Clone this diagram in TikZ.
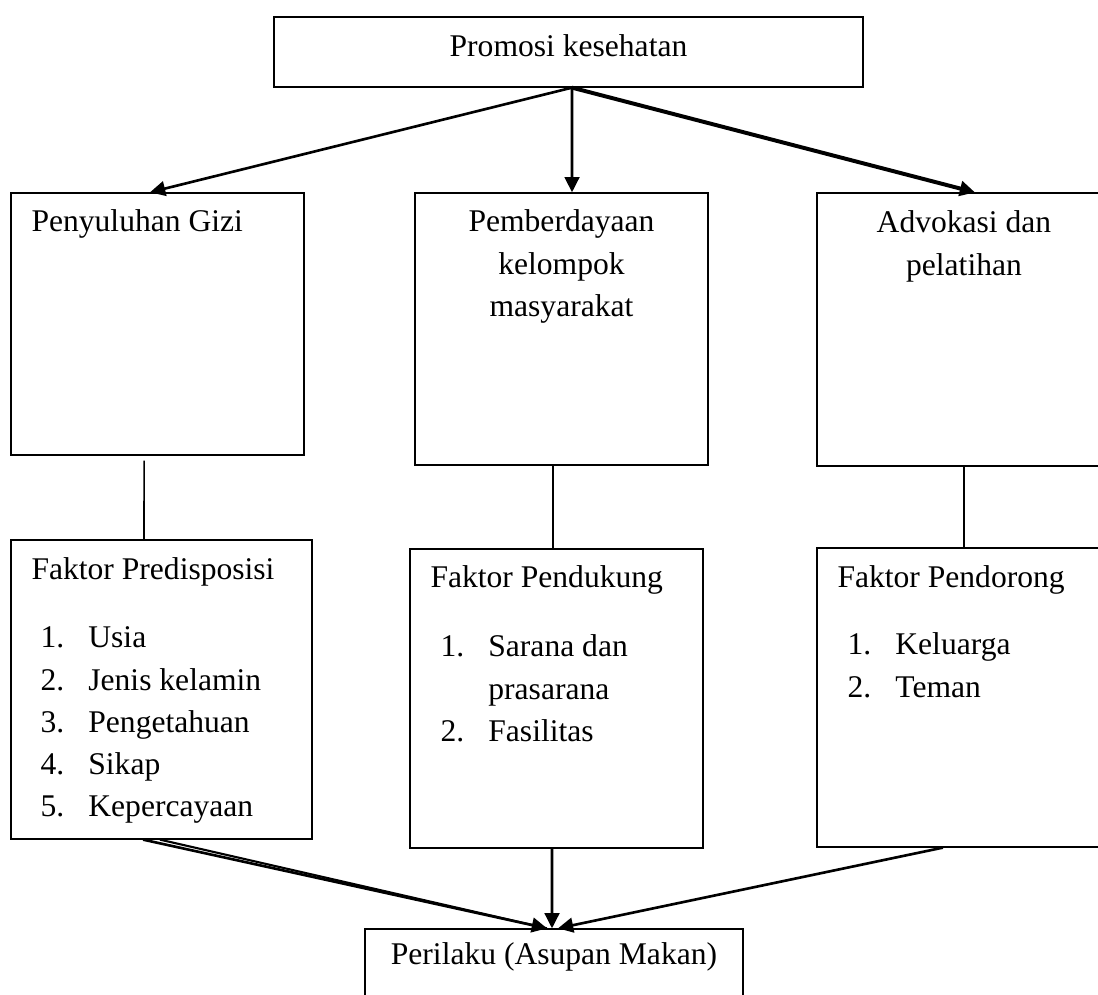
\documentclass[tikz,border=0pt]{standalone}
\usepackage{fontspec}
\setmainfont{Liberation Serif}
\usetikzlibrary{arrows.meta}

\begin{document}
\begin{tikzpicture}[x=0.38pt, y=-0.38pt,
        box/.style={draw, rectangle, inner sep=0pt, line width=0.5pt},
        txt/.style={inner sep=0pt, font=\fontsize{12}{16}\selectfont},
        arr/.style={line width=1pt, -{Triangle[length=5.8pt,width=5.6pt]}},
        link/.style={line width=0.6pt} ]
        \useasboundingbox (0,0) rectangle (1098,995);
        \clip (0,0) rectangle (1098,995);
        % boxes
        \node[box, minimum width=223.8pt, minimum height=26.6pt] (promo) at (568.5,52) {};
        \node[box, minimum width=111.3pt, minimum height=99.6pt] (peny) at (157.5,324) {};
        \node[box, minimum width=111.3pt, minimum height=103.4pt] (pember) at (561.5,329) {};
        \node[box, minimum width=111.7pt, minimum height=103.7pt] (adv) at (964,329.5) {};
        \node[box, minimum width=114.4pt, minimum height=113.6pt] (pred) at (161.5,689.5) {};
        \node[box, minimum width=111.3pt, minimum height=113.6pt] (pend) at (556.5,698.5) {};
        \node[box, minimum width=111.7pt, minimum height=113.6pt] (pendr) at (964,697.5) {};
        \node[box, minimum width=143.6pt, minimum height=26.6pt] (peril) at (554,964) {};
        % texts
        \node[txt, anchor=base] (tpromo) at (568.5,57) {Promosi kesehatan};
        \node[txt, anchor=base west] (tpeny) at (31,232) {Penyuluhan Gizi};
        \node[txt, anchor=base] (tpember) at (561.5,232)
            {\begin{tabular}[t]{@{}c@{}}Pemberdayaan\\ kelompok\\ masyarakat\end{tabular}};
        \node[txt, anchor=base] (tadv) at (964,233)
            {\begin{tabular}[t]{@{}c@{}}Advokasi dan\\ pelatihan\end{tabular}};
        \node[txt, anchor=base west] (tpred) at (31,580) {Faktor Predisposisi};
        \node[txt, anchor=base west] (lpred) at (40,648)
            {\begin{tabular}[t]{@{}p{18.2pt}@{}l@{}}1. & Usia\\ 2. & Jenis kelamin\\ 3. & Pengetahuan\\ 4. & Sikap\\ 5. & Kepercayaan\end{tabular}};
        \node[txt, anchor=base west] (tpend) at (430,588) {Faktor Pendukung};
        \node[txt, anchor=base west] (lpend) at (440,657)
            {\begin{tabular}[t]{@{}p{18.2pt}@{}l@{}}1. & Sarana dan\\ & prasarana\\ 2. & Fasilitas\end{tabular}};
        \node[txt, anchor=base west] (tpendr) at (837,588) {Faktor Pendorong};
        \node[txt, anchor=base west] (lpendr) at (847,655)
            {\begin{tabular}[t]{@{}p{18.2pt}@{}l@{}}1. & Keluarga\\ 2. & Teman\end{tabular}};
        \node[txt, anchor=base] (tperil) at (554,965) {Perilaku (Asupan Makan)};
        % arrows and links
        \draw[arr] ([xshift=1.33pt]promo.south) -- ([xshift=-2.85pt]peny.north);
        \draw[arr] ([xshift=1.33pt]promo.south) -- ([xshift=4pt]pember.north);
        \draw[arr, line width=1.5pt] ([xshift=1.33pt]promo.south) -- ([xshift=4.2pt]adv.north);
        \draw[link] ([xshift=-5.1pt, yshift=-1.9pt]peny.south) -- ([xshift=-6.65pt]pred.north);
        \draw[link] ([xshift=-3.23pt]pember.south) -- ([xshift=-1.33pt]pend.north);
        \draw[link] (adv.south) -- (pendr.north);
        \draw[arr] ([xshift=-7pt]pred.south) -- ([xshift=-2.66pt]peril.north);
        \draw[line width=0.8pt] ([xshift=-0.6pt]pred.south) -- ([xshift=-2.66pt]peril.north);
        \draw[arr] ([xshift=-1.7pt]pend.south) -- ([xshift=-0.76pt]peril.north);
        \draw[arr] ([xshift=-8pt]pendr.south) -- ([xshift=1.5pt]peril.north);
    \end{tikzpicture}
\end{document}
